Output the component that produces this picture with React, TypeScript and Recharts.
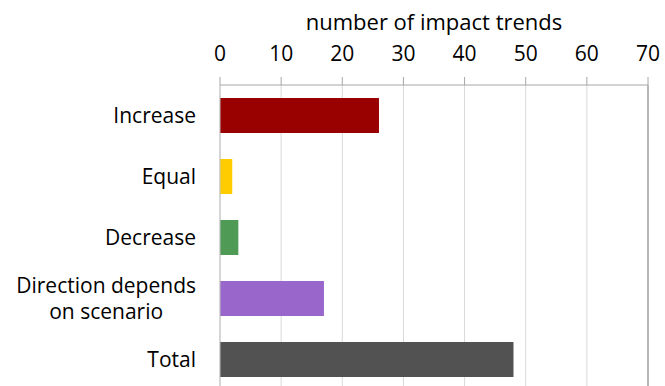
import { Bar, BarChart, CartesianGrid, Cell, ReferenceLine, XAxis, YAxis } from "recharts";

const categories = ["Increase", "Equal", "Decrease", "Direction depends\non scenario", "Total"];
const trendCounts = [26, 2, 3, 17, 48];
const barColors = ["#990000", "#ffcc00", "#4f9a55", "#9966cc", "#525252"];
const xTicks = [0, 10, 20, 30, 40, 50, 60, 70];

const data = categories.map((name, i) => ({ name, count: trendCounts[i] }));

const FONT = "'Open Sans', sans-serif";
const FONT_SIZE = 21;

let ctx: CanvasRenderingContext2D | null = null;
function measure(text: string) {
    if (!ctx) ctx = document.createElement("canvas").getContext("2d");
    if (!ctx) return text.length * FONT_SIZE * 0.5;
    ctx.font = `${FONT_SIZE}px 'Open Sans'`;
    return ctx.measureText(text).width;
}

function CategoryTick({ x, y, payload }: any) {
    const lines = String(payload.value).split("\n");
    if (lines.length === 1) {
        return (
            <text x={x} y={y} dy="0.36em" textAnchor="end" fill="#000" fontSize={FONT_SIZE} fontFamily={FONT}>
                {lines[0]}
            </text>
        );
    }
    const maxW = Math.max(...lines.map(measure));
    const cx = x - maxW / 2;
    const lineH = 26;
    const top = y - ((lines.length - 1) * lineH) / 2;
    return (
        <text textAnchor="middle" fill="#000" fontSize={FONT_SIZE} fontFamily={FONT}>
            {lines.map((l, i) => (
                <tspan key={i} x={cx} y={top + i * lineH} dy="0.36em">
                    {l}
                </tspan>
            ))}
        </text>
    );
}

export default function App() {
    return (
        <div style={{ position: "fixed", left: 0, top: 0, width: 665, height: 386, overflow: "hidden", background: "#fff" }}>
            <BarChart
                width={665}
                height={400}
                data={data}
                layout="vertical"
                margin={{ top: 0, right: 17, bottom: 10, left: 0 }}
                barSize={35}
            >
                <CartesianGrid vertical horizontal={false} stroke="#d9d9d9" />
                <XAxis
                    type="number"
                    orientation="top"
                    domain={[0, 70]}
                    ticks={xTicks}
                    interval={0}
                    height={85}
                    stroke="#a6a6a6"
                    tickSize={8}
                    tickMargin={16}
                    tick={{ fill: "#000", fontSize: FONT_SIZE, fontFamily: FONT }}
                    label={{
                        value: "number of impact trends",
                        position: "insideTop",
                        offset: 14,
                        fill: "#000",
                        fontSize: 22,
                        fontFamily: FONT,
                    }}
                />
                <YAxis
                    type="category"
                    dataKey="name"
                    width={220}
                    tickLine={false}
                    tickSize={0}
                    tickMargin={24}
                    stroke="#bfbfbf"
                    tick={<CategoryTick />}
                    interval={0}
                />
                <ReferenceLine x={70} stroke="#a6a6a6" strokeWidth={1.5} />
                <Bar dataKey="count" isAnimationActive={false}>
                    {data.map((d, i) => (
                        <Cell key={d.name} fill={barColors[i]} />
                    ))}
                </Bar>
            </BarChart>
        </div>
    );
}
